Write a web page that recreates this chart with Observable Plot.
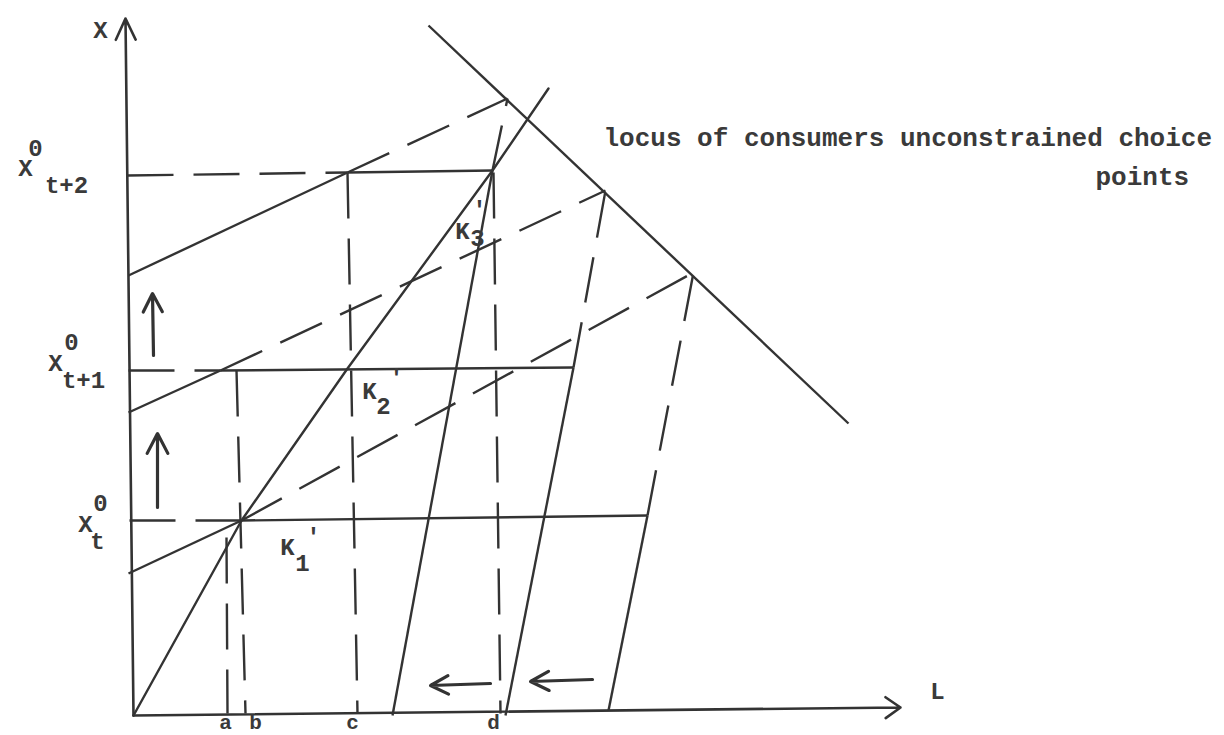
<!DOCTYPE html>
<html>
<head>
<meta charset="utf-8">
<script src="https://cdn.jsdelivr.net/npm/d3@7"></script>
<script src="https://cdn.jsdelivr.net/npm/@observablehq/plot@0.6"></script>
<style>
  html, body { margin: 0; padding: 0; background: #fff; }
  #chart svg { display: block; }
</style>
</head>
<body>
<div id="chart"></div>
<script>
// Diagram coordinates: L (horizontal) and X (vertical), origin at the axes' corner.
// Values.

// Axes (drawn as arrows)
const xAxisArrow = [{x1: 0, y1: 0, x2: -8, y2: 697}];   // X axis (vertical)
const lAxisArrow = [{x1: 0, y1: 0, x2: 767, y2: 8}];    // L axis (horizontal)

// Solid segments
const solidSegments = [
  // horizontal consumption levels (solid parts)
  {x1: 108, y1: 195, x2: 514, y2: 200},   // X0_t
  {x1: 87,  y1: 345, x2: 440, y2: 348},   // X0_t+1
  {x1: 214, y1: 543, x2: 359, y2: 545},   // X0_t+2
  // budget lines (solid parts)
  {x1: -5, y1: 142, x2: 108, y2: 195},
  {x1: -5, y1: 303, x2: 87,  y2: 345},
  {x1: -5, y1: 440, x2: 214, y2: 543},
  // locus of unconstrained choice points
  {x1: 295, y1: 690, x2: 715, y2: 292},
  // steep lines (solid parts)
  {x1: 259, y1: 0, x2: 359, y2: 545},
  {x1: 372, y1: 0, x2: 440, y2: 348},
  {x1: 475, y1: 5, x2: 514, y2: 200}
];

// Dashed segments
const dashedSegments = [
  // horizontal levels from the X axis
  {x1: -4, y1: 195, x2: 108, y2: 195},
  {x1: -5, y1: 345, x2: 87,  y2: 345},
  {x1: -6, y1: 540, x2: 214, y2: 543},
  // budget line continuations up to the locus
  {x1: 108, y1: 195, x2: 560, y2: 443},
  {x1: 87,  y1: 345, x2: 472, y2: 525},
  {x1: 214, y1: 543, x2: 374, y2: 617},
  // steep line continuations up to the locus
  {x1: 359, y1: 545, x2: 374, y2: 617},
  {x1: 440, y1: 348, x2: 472, y2: 525},
  {x1: 514, y1: 200, x2: 560, y2: 443},
  // verticals down to a, b, c, d
  {x1: 93,  y1: 178, x2: 94,  y2: 2},
  {x1: 103, y1: 345, x2: 112, y2: 2},
  {x1: 214, y1: 543, x2: 224, y2: 2},
  {x1: 360, y1: 543, x2: 367, y2: 2}
];

// Ray from the origin through K1', K2', K3'
const rayL = [0, 108, 214, 359, 415];
const rayX = [0, 195, 347, 545, 627];

// Shift arrows
const shiftArrows = [
  {x1: 20,  y1: 360, x2: 19,  y2: 422},
  {x1: 24,  y1: 208, x2: 24,  y2: 282},
  {x1: 357, y1: 32,  x2: 297, y2: 30},
  {x1: 459, y1: 36,  x2: 397, y2: 34}
];

// Text labels
const labelText = ["X", "L",
  "X", "0", "t+2",
  "X", "0", "t+1",
  "X", "0", "t",
  "K", "1", "'",
  "K", "2", "'",
  "K", "3", "'"];
const labelL = [-33, 804,
  -108, -98, -67,
  -78, -62, -50,
  -48, -33, -36,
  154, 169, 180,
  236, 250, 263,
  329, 344, 346];
const labelX = [685, 24,
  547, 567, 530,
  352, 373, 335,
  191, 212, 174,
  168, 152, 178,
  324, 309, 337,
  484, 477, 505];

// Points marked on the L axis
const pointNames = ["a", "b", "c", "d"];
const pointL = [92, 122, 219, 360];
const pointX = [-7, -7, -7, -7];

const noteLines = ["locus of consumers unconstrained choice", "points"];
const noteL = [470, 962];
const noteX = [578, 539];

const ink = "#333";
const textInk = "#3a3a3a";
const font = "'Liberation Mono', 'DejaVu Sans Mono', monospace";

const labels = labelText.map((t, i) => ({t, L: labelL[i], X: labelX[i]}));
const points = pointNames.map((t, i) => ({t, L: pointL[i], X: pointX[i]}));
const notes = noteLines.map((t, i) => ({t, L: noteL[i], X: noteX[i]}));
const ray = rayL.map((L, i) => ({L, X: rayX[i]}));

const chart = Plot.plot({
  width: 1224,
  height: 735,
  margin: 0,
  x: {domain: [-133, 1091], axis: null},
  y: {domain: [-20, 715], axis: null},
  style: {background: "#fff"},
  marks: [
    Plot.arrow(xAxisArrow, {x1: "x1", y1: "y1", x2: "x2", y2: "y2", stroke: ink, strokeWidth: 2.6, headLength: 13.5, headAngle: 50}),
    Plot.arrow(lAxisArrow, {x1: "x1", y1: "y1", x2: "x2", y2: "y2", stroke: ink, strokeWidth: 2.6, headLength: 10.5, headAngle: 70}),
    Plot.link(solidSegments, {x1: "x1", y1: "y1", x2: "x2", y2: "y2", stroke: ink, strokeWidth: 2.4}),
    Plot.link(dashedSegments, {x1: "x1", y1: "y1", x2: "x2", y2: "y2", stroke: ink, strokeWidth: 2.4, strokeDasharray: "46,20"}),
    Plot.line(ray, {x: "L", y: "X", stroke: ink, strokeWidth: 2.4}),
    Plot.arrow(shiftArrows, {x1: "x1", y1: "y1", x2: "x2", y2: "y2", stroke: ink, strokeWidth: 3.2, headLength: 10.5, headAngle: 55}),
    Plot.text(labels, {x: "L", y: "X", text: "t", fontSize: 24, fontFamily: font, fontWeight: "bold", fill: textInk}),
    Plot.text(points, {x: "L", y: "X", text: "t", fontSize: 21, fontFamily: font, fontWeight: "bold", fill: textInk}),
    Plot.text(notes, {x: "L", y: "X", text: "t", fontSize: 26, fontFamily: font, fontWeight: "bold", fill: textInk, textAnchor: "start"})
  ]
});
document.getElementById("chart").appendChild(chart);
</script>
</body>
</html>
